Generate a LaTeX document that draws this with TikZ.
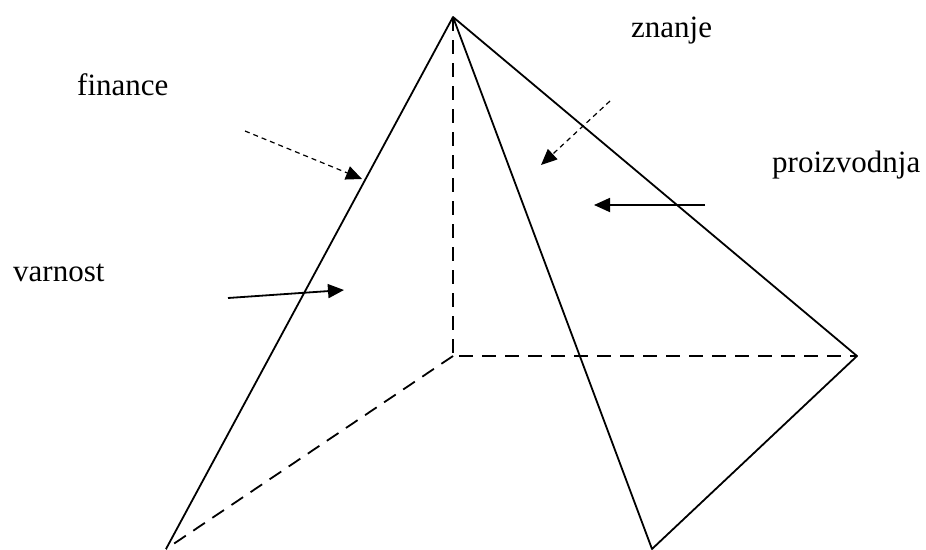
\documentclass[tikz,border=0pt]{standalone}
\usepackage{fontspec}
\setmainfont{Liberation Serif}
\usetikzlibrary{arrows.meta}
\begin{document}
\begin{tikzpicture}[x=1pt,y=-1pt,
  edge/.style={line width=1.8pt, line join=round},
  hidden/.style={line width=1.8pt, dash pattern=on 14pt off 9pt},
  force/.style={line width=1.8pt, -{Triangle[length=16pt,width=14pt]}},
  weak/.style={line width=1.2pt, dash pattern=on 5pt off 4pt, -{Triangle[length=16pt,width=14pt]}},
  lbl/.style={font=\fontsize{31}{37}\selectfont, anchor=base west, inner sep=0pt}]
\useasboundingbox (0,0) rectangle (926,549);
% vertices
\coordinate (A) at (453,17);
\coordinate (L) at (166,549);
\coordinate (B) at (652,549);
\coordinate (R) at (857,356);
\coordinate (C) at (453,356);
% hidden edges
\draw[hidden] (A) -- (C) -- (R);
\draw[hidden] (C) -- (L);
% visible edges
\draw[edge] (L) -- (A) -- (B) -- (R) -- (A);
% labels
\node[lbl] (fin) at (77,95) {finance};
\node[lbl] (zna) at (631,37) {znanje};
\node[lbl] (pro) at (772,172) {proizvodnja};
\node[lbl] (var) at (13,281) {varnost};
% arrow ends
\coordinate (f1) at (245,131);
\coordinate (f2) at (362,179);
\coordinate (z1) at (610,101);
\coordinate (z2) at (541,165);
\coordinate (p1) at (705,205);
\coordinate (p2) at (594,205);
\coordinate (v1) at (228,298);
\coordinate (v2) at (344,290);
\draw[weak] (f1) -- (f2);
\draw[weak] (z1) -- (z2);
\draw[force] (p1) -- (p2);
\draw[force] (v1) -- (v2);
\end{tikzpicture}
\end{document}
